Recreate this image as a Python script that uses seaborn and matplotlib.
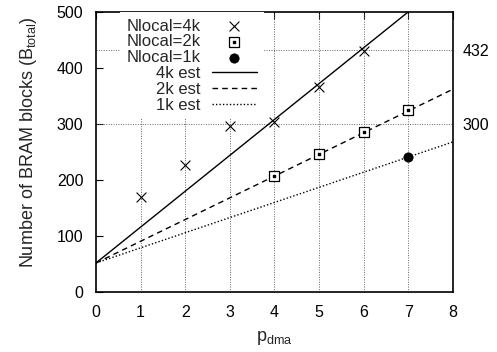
import matplotlib

matplotlib.use("Agg")
import matplotlib.pyplot as plt
import seaborn as sns

# measured points
p_4k = [1, 2, 3, 4, 5, 6]
b_4k = [170, 227, 296, 303, 366, 430]
p_2k = [4, 5, 6, 7]
b_2k = [208, 246, 286, 325]
p_1k = [7]
b_1k = [241]

# estimate lines (end points)
est_x = [0, 8]
est_4k = [52, 564]
est_2k = [52, 362]
est_1k = [52, 268]

x_ticks = [0, 1, 2, 3, 4, 5, 6, 7, 8]
y_ticks = [0, 100, 200, 300, 400, 500]
right_ticks = [300, 432]

sns.set_style("white")
plt.rcParams["font.family"] = ["Liberation Sans", "DejaVu Sans"]
plt.rcParams["mathtext.fontset"] = "custom"
plt.rcParams["mathtext.rm"] = "Liberation Sans"
plt.rcParams["mathtext.it"] = "Liberation Sans"

fs = 11.5
fig = plt.figure(figsize=(4.97, 3.52), dpi=100)
ax = fig.add_axes([0.193, 0.170, 0.718, 0.796])

grid_style = dict(color="#666666", lw=0.7, ls=(0, (1, 1.5)), zorder=1)
for x in x_ticks[1:-1]:
    ax.axvline(x, **grid_style)
for y in right_ticks:
    ax.axhline(y, **grid_style)

sns.scatterplot(x=p_4k, y=b_4k, marker="x", s=50, color="black",
                linewidth=0.8, label="Nlocal=4k", ax=ax, zorder=3)
h2 = ax.scatter(p_2k, b_2k, marker="s", s=50, facecolors="white",
                edgecolors="black", linewidths=0.9, zorder=3)
h2dot = ax.scatter(p_2k, b_2k, marker="s", s=1.2, color="black", zorder=4)
sns.scatterplot(x=p_1k, y=b_1k, marker="o", s=45, color="black",
                edgecolor="black", label="Nlocal=1k", ax=ax, zorder=3)
sns.lineplot(x=est_x, y=est_4k, color="black", lw=1, ls="-",
             label="4k est", ax=ax, zorder=2)
sns.lineplot(x=est_x, y=est_2k, color="black", lw=1, ls=(0, (4, 3)),
             label="2k est", ax=ax, zorder=2)
sns.lineplot(x=est_x, y=est_1k, color="black", lw=1, ls=(0, (1, 1.5)),
             label="1k est", ax=ax, zorder=2)

ax.set_xlim(0, 8)
ax.set_ylim(0, 500)
ax.set_xticks(x_ticks)
ax.set_yticks(y_ticks)
ax.tick_params(direction="in", top=True, right=True, length=5, width=0.8,
               labelsize=fs, colors="black")
ax.tick_params(axis="y", pad=9)
ax.tick_params(axis="x", pad=9)
for s in ax.spines.values():
    s.set_color("black")
    s.set_linewidth(1.2)

ax.set_xlabel("p$_{\\mathrm{dma}}$", fontsize=13)
ax.set_ylabel("Number of BRAM blocks (B$_{\\mathrm{total}}$)", fontsize=13)
ax.xaxis.set_label_coords(0.5, -0.13)
ax.yaxis.set_label_coords(-0.16, 0.534)

ax2 = ax.twinx()
ax2.set_ylim(0, 500)
ax2.set_yticks(right_ticks)
ax2.tick_params(length=0, pad=7, labelsize=fs, colors="black")
for s in ax2.spines.values():
    s.set_visible(False)

hs, ls = ax.get_legend_handles_labels()
handles = [hs[0], (h2, h2dot), hs[1], hs[2], hs[3], hs[4]]
labels = ["Nlocal=4k", "Nlocal=2k", "Nlocal=1k", "4k est", "2k est", "1k est"]
leg = ax.legend(handles, labels, loc="upper right", bbox_to_anchor=(0.47, 1.0),
                markerfirst=False, frameon=True, fancybox=False, framealpha=1,
                edgecolor="none", facecolor="white", fontsize=12,
                labelspacing=0.05, handlelength=2.7, handletextpad=0.7,
                borderpad=0.4, borderaxespad=0, scatterpoints=1)
leg.set_zorder(2.5)

fig.savefig("out.png", dpi=100)
